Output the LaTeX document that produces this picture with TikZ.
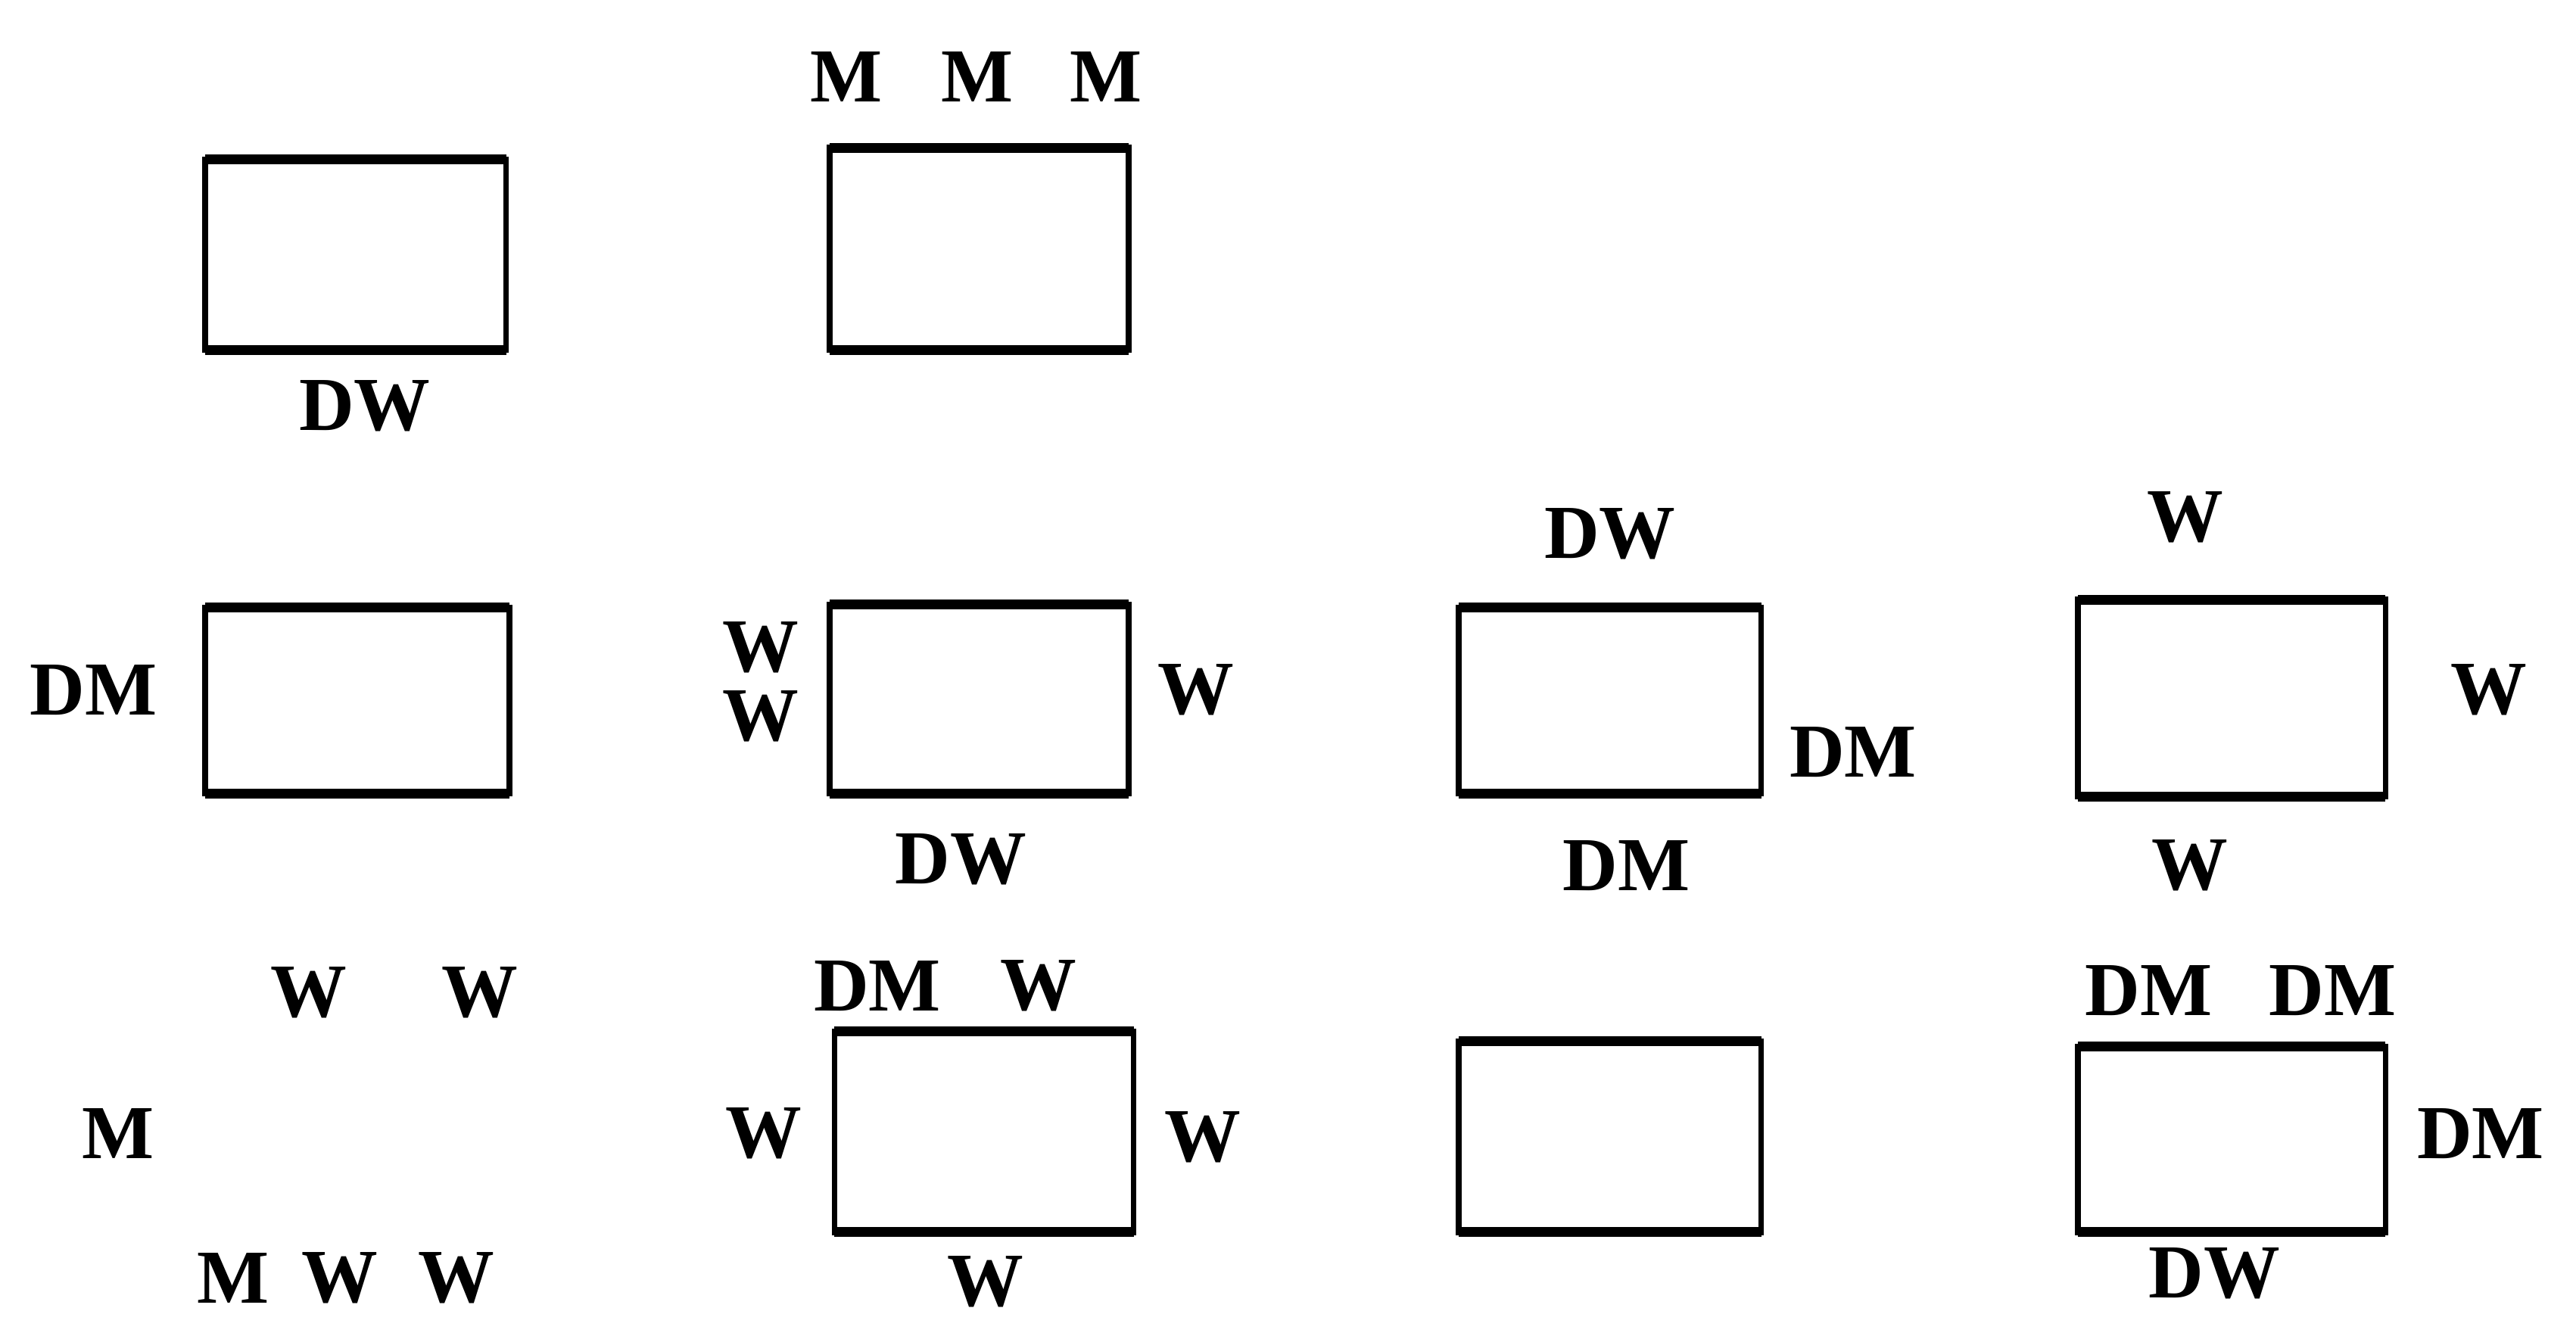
\documentclass[tikz,border=0pt]{standalone}
\usepackage{fontspec}
\setmainfont{Liberation Serif}
\begin{document}
\begin{tikzpicture}[x=0.01cm,y=-0.01cm,
  bx/.style={draw, line width=1.0pt, inner sep=0pt, outer sep=0pt},
  edge/.style={line width=1.7pt},
  lbl/.style={inner sep=0pt, font=\fontsize{13.2}{15}\selectfont\bfseries}]
\useasboundingbox[fill=white] (0,0) rectangle (1568,813);
% boxes
\node[bx, minimum width=1.83cm, minimum height=1.16cm] (A) at (216.5,155) {};
\node[bx, minimum width=1.82cm, minimum height=1.23cm] (B) at (596,151.5) {};
\node[bx, minimum width=1.85cm, minimum height=1.13cm] (C) at (217.5,426.5) {};
\node[bx, minimum width=1.82cm, minimum height=1.15cm] (D) at (596,425.5) {};
\node[bx, minimum width=1.84cm, minimum height=1.13cm] (E) at (980,426.5) {};
\node[bx, minimum width=1.87cm, minimum height=1.20cm] (F) at (1358.5,425) {};
\node[bx, minimum width=1.82cm, minimum height=1.22cm] (H) at (599,689) {};
\node[bx, minimum width=1.84cm, minimum height=1.16cm] (I) at (980,692) {};
\node[bx, minimum width=1.87cm, minimum height=1.13cm] (J) at (1358.5,693.5) {};
\foreach \b in {A,B,C,D,E,F,H,I,J}{
  \draw[edge] (\b.north west) -- (\b.north east);
  \draw[edge] (\b.south west) -- (\b.south east);
}
% labels
\node[lbl] (a1) at (222,247) {DW};
\node[lbl] (b1) at (515,47) {M};
\node[lbl] (b2) at (595,47) {M};
\node[lbl] (b3) at (673,47) {M};
\node[lbl] (c1) at (57,420) {DM};
\node[lbl] (d1) at (463,394) {W};
\node[lbl] (d2) at (463,436) {W};
\node[lbl] (d3) at (728,420) {W};
\node[lbl] (d4) at (585,523) {DW};
\node[lbl] (e1) at (980,325) {DW};
\node[lbl] (e2) at (1128,458) {DM};
\node[lbl] (e3) at (990,527) {DM};
\node[lbl] (f1) at (1330,315) {W};
\node[lbl] (f2) at (1515,420) {W};
\node[lbl] (f3) at (1333,527) {W};
\node[lbl] (g1) at (188,604) {W};
\node[lbl] (g2) at (292,604) {W};
\node[lbl] (g3) at (72,690) {M};
\node[lbl] (g4) at (142,778) {M};
\node[lbl] (g5) at (207,778) {W};
\node[lbl] (g6) at (278,778) {W};
\node[lbl] (h1) at (534,600) {DM};
\node[lbl] (h2) at (632,600) {W};
\node[lbl] (h3) at (465,690) {W};
\node[lbl] (h4) at (732,692) {W};
\node[lbl] (h5) at (600,780) {W};
\node[lbl] (j1) at (1308,603) {DM};
\node[lbl] (j2) at (1420,603) {DM};
\node[lbl] (j3) at (1510,690) {DM};
\node[lbl] (j4) at (1348,775) {DW};
\end{tikzpicture}
\end{document}
